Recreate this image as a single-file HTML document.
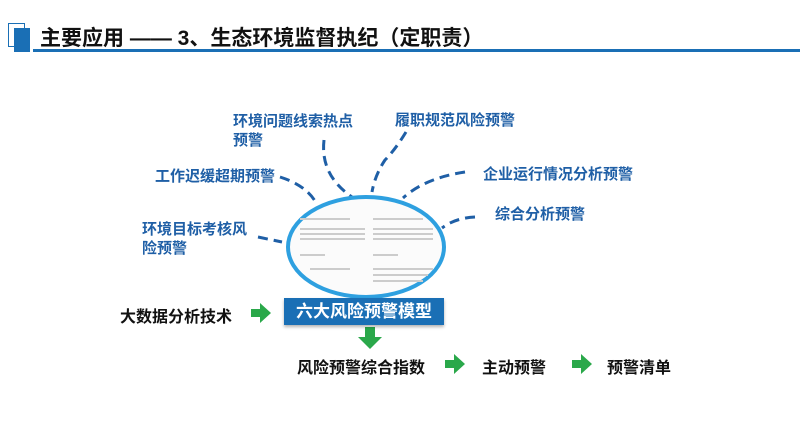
<!DOCTYPE html>
<html><head><meta charset="utf-8"><style>
body{margin:0;width:800px;height:440px;background:#fff;position:relative;overflow:hidden;font-family:"Liberation Sans","Noto Sans CJK SC",sans-serif}
.t{position:absolute;font-weight:bold;white-space:nowrap}
.b{color:#1f5fa6;font-size:15px;line-height:19px}
.k{color:#111;font-size:16px}
</style></head><body>
<div style="position:absolute;left:8px;top:23px;width:15px;height:22px;border:1px solid #1a6fb5"></div>
<div style="position:absolute;left:14px;top:28px;width:16px;height:24px;background:#1a6fb5"></div>
<div style="position:absolute;left:33px;top:49px;width:767px;height:3px;background:#1a6fb5"></div>
<div class="t" style="left:40px;top:22px;font-size:21px;color:#111;">主要应用 —— 3、生态环境监督执纪（定职责）</div>

<svg width="800" height="440" style="position:absolute;left:0;top:0">
<g fill="none" stroke="#1f5fa6" stroke-width="3" stroke-dasharray="10,6">
<path d="M280 177 Q305 185 315 201"/>
<path d="M324 140 Q320 175 352 197"/>
<path d="M406 132 Q395 150 385 160 Q375 175 372 192"/>
<path d="M465 172 Q425 178 403 198"/>
<path d="M475 217 Q455 218 442 228"/>
<path d="M258 237 L282 242"/>
</g>
<ellipse cx="366" cy="247" rx="78" ry="50" fill="#fbfbfb" stroke="#2ea0e0" stroke-width="4"/>
<g fill="#ccc">
<rect x="300" y="218" width="50" height="2"/><rect x="373" y="218" width="50" height="2"/>
<rect x="300" y="228" width="65" height="2"/><rect x="373" y="228" width="60" height="2"/>
<rect x="300" y="233" width="65" height="2"/><rect x="373" y="233" width="60" height="2"/>
<rect x="300" y="238" width="65" height="2"/><rect x="373" y="238" width="60" height="2"/>
<rect x="300" y="254" width="25" height="2"/><rect x="373" y="254" width="25" height="2"/>
<rect x="310" y="268" width="40" height="2"/><rect x="373" y="268" width="60" height="2"/>
<rect x="373" y="274" width="55" height="2"/><rect x="373" y="280" width="50" height="2"/>
</g>
<g fill="#2aa84a">
<path d="M251 309 h9 v-6 l11 10 l-11 10 v-6 h-9z"/>
<path d="M445 360 h9 v-6 l11 10 l-11 10 v-6 h-9z"/>
<path d="M572 360 h9 v-6 l11 10 l-11 10 v-6 h-9z"/>
<path d="M365 327 h10 v10 h7 l-12 12 l-12 -12 h7z"/>
</g>
</svg>
<div style="position:absolute;left:284px;top:298px;width:160px;height:27px;background:#1a6fb5;box-shadow:0 2px 3px rgba(0,0,0,.3);color:#fff;font-weight:bold;font-size:17px;line-height:27px;text-align:center">六大风险预警模型</div>

<div class="t b" style="left:233px;top:112px">环境问题线索热点<br>预警</div>
<div class="t b" style="left:395px;top:111px">履职规范风险预警</div>
<div class="t b" style="left:155px;top:167px">工作迟缓超期预警</div>
<div class="t b" style="left:483px;top:165px">企业运行情况分析预警</div>
<div class="t b" style="left:495px;top:205px">综合分析预警</div>
<div class="t b" style="left:142px;top:220px">环境目标考核风<br>险预警</div>

<div class="t k" style="left:120px;top:303px">大数据分析技术</div>
<div class="t k" style="left:297px;top:354px">风险预警综合指数</div>
<div class="t k" style="left:482px;top:354px">主动预警</div>
<div class="t k" style="left:607px;top:354px">预警清单</div>
</body></html>
